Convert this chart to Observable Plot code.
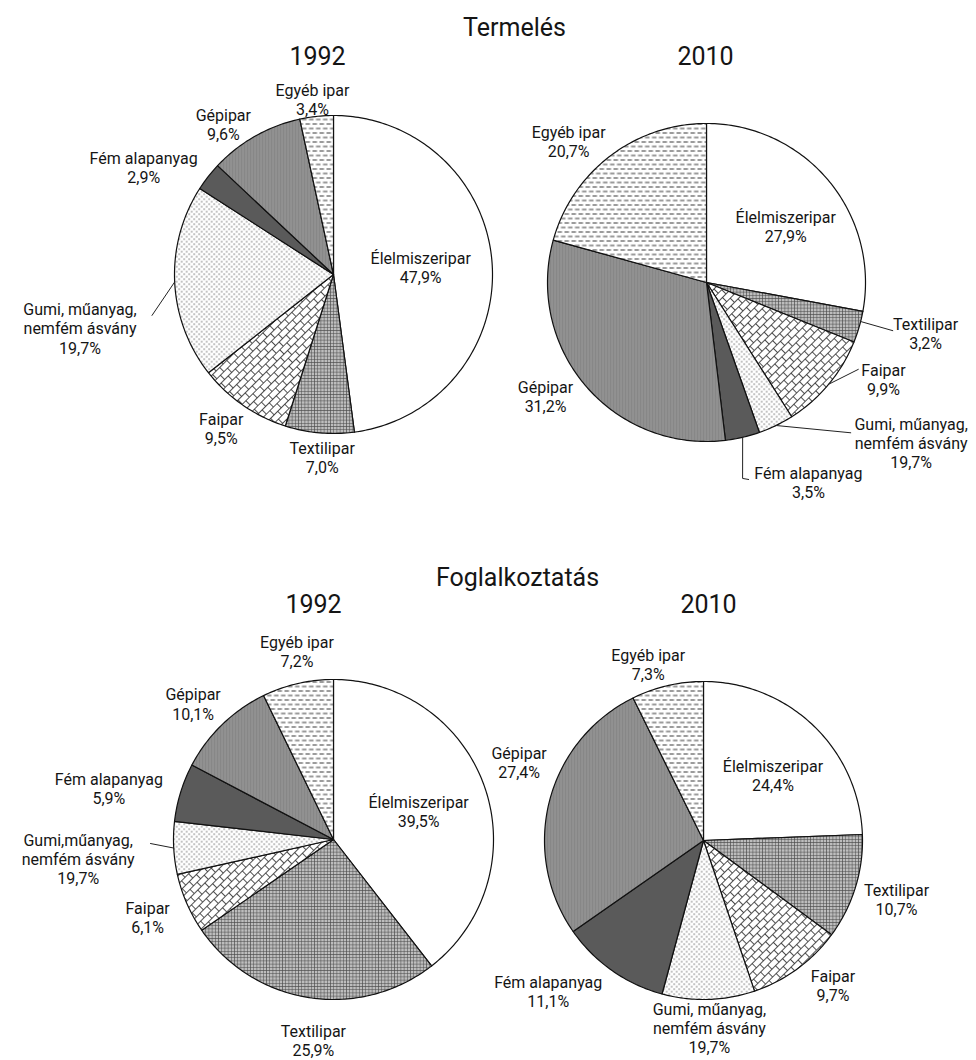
<!DOCTYPE html>
<html><head><meta charset="utf-8">
<script src="https://cdn.jsdelivr.net/npm/d3@7"></script>
<script src="https://cdn.jsdelivr.net/npm/@observablehq/plot@0.6"></script>
<style>
body{margin:0;background:#fff}
#chart svg{display:block}
</style>
</head><body>
<svg width="0" height="0" style="position:absolute;left:0;top:0">
<defs>
  <pattern id="p-textil" width="3.2" height="3.2" patternUnits="userSpaceOnUse">
    <rect width="3.2" height="3.2" fill="#bdbdbd"/>
    <path d="M0 0.4H3.2M0.4 0V3.2" stroke="#4a4a4a" stroke-width="0.55"/>
  </pattern>
  <pattern id="p-fa" width="10" height="12" patternUnits="userSpaceOnUse" patternTransform="rotate(-45)">
    <rect width="10" height="12" fill="#fff"/>
    <path d="M0 0.5H10M0 6.5H10M0.5 0.5V6.5M5.5 6.5V12.5" stroke="#222" stroke-width="0.8"/>
  </pattern>
  <pattern id="p-gumi" width="5" height="5" patternUnits="userSpaceOnUse">
    <rect width="5" height="5" fill="#fff"/>
    <circle cx="1.2" cy="1.2" r="0.65" fill="#444"/>
    <circle cx="3.7" cy="3.7" r="0.65" fill="#444"/>
  </pattern>
  <pattern id="p-gep" width="3" height="10" patternUnits="userSpaceOnUse">
    <rect width="3" height="10" fill="#9a9a9a"/>
    <path d="M1 0V10" stroke="#737373" stroke-width="1"/>
  </pattern>
  <pattern id="p-egyeb" width="7" height="9" patternUnits="userSpaceOnUse">
    <rect width="7" height="9" fill="#fff"/>
    <path d="M0.5 2H5M4 6.5H8.5M-3 6.5H1.5" stroke="#222" stroke-width="0.9"/>
  </pattern>
</defs>
</svg>
<div id="chart"></div>
<script>
// ---- data ----
const sectors = ["Élelmiszeripar", "Textilipar", "Faipar", "Gumi, műanyag,\nnemfém ásvány", "Fém alapanyag", "Gépipar", "Egyéb ipar"];
const sectorsAlt = ["Élelmiszeripar", "Textilipar", "Faipar", "Gumi,műanyag,\nnemfém ásvány", "Fém alapanyag", "Gépipar", "Egyéb ipar"];
const sectionTitles = ["Termelés", "Foglalkoztatás"];
const years = ["1992", "2010"];

// printed percentages (as labelled)
const termeles1992 = [47.9, 7.0, 9.5, 19.7, 2.9, 9.6, 3.4];
const termeles2010 = [27.9, 3.2, 9.9, 19.7, 3.5, 31.2, 20.7];
const foglalk1992  = [39.5, 25.9, 6.1, 19.7, 5.9, 10.1, 7.2];
const foglalk2010  = [24.4, 10.7, 9.7, 19.7, 11.1, 27.4, 7.3];
// slice sizes as drawn in the picture (the "Gumi" slices are drawn smaller than labelled)
const termeles1992Slice = [47.9, 7.0, 9.5, 19.7, 2.9, 9.6, 3.4];
const termeles2010Slice = [27.9, 3.2, 9.9, 3.6, 3.5, 31.2, 20.7];
const foglalk1992Slice  = [39.5, 25.9, 6.1, 5.3, 5.9, 10.1, 7.2];
const foglalk2010Slice  = [24.4, 10.7, 9.7, 9.4, 11.1, 27.4, 7.3];

// ---- styles / layout ----
const sectorFill = ["#ffffff", "url(#p-textil)", "url(#p-fa)", "url(#p-gumi)", "#5a5a5a", "url(#p-gep)", "url(#p-egyeb)"];

const pies = [
  {names: sectors, printed: termeles1992, slice: termeles1992Slice, cx: 333, cy: 274, r: 159,
   label: [[0.55,-0.8],[1.15,-1.5],[1.2,1.3],[1.63,-9.3],[1.37,-8.6],[1.17,-6.8],[1.11,-0.7]],
   leaders: [{i: 3, pts: [[1,0],[1.17,-10]]}]},
  {names: sectors, printed: termeles2010, slice: termeles2010Slice, cx: 706, cy: 282, r: 159,
   label: [[0.61,4.5],[1.415,-3.1],[1.27,-11],[1.635,-26],[1.41,-13.9],[1.24,5.4],[1.24,-7.1]],
   leaders: [{i: 1, pts: [[1,-2],[1.21,-1.7]]}, {i: 2, pts: [[1,0],[1.1,-10]]},
             {i: 3, pts: [[1,0],[1.31,-17.9]]}, {i: 4, pts: [[1,0],[1.253,2.7],[1.267,1.06]]}]},
  {names: sectorsAlt, printed: foglalk1992, slice: foglalk1992Slice, cx: 333, cy: 839, r: 160,
   label: [[0.56,0.7],[1.26,-3.1],[1.26,0.8],[1.6,-1.2],[1.44,-4.3],[1.22,-1.9],[1.2,2]],
   leaders: [{i: 3, pts: [[1,0],[1.144,1.8]]}]},
  {names: sectors, printed: foglalk2010, slice: foglalk2010Slice, cx: 703, cy: 840, r: 159,
   label: [[0.6,2.8],[1.27,0],[1.22,-5.7],[1.18,0],[1.36,10.8],[1.26,8.6],[1.16,-4.3]],
   leaders: []}
];
const sectionPos = [[514, 27], [517, 577]];
const yearPos = [[317, 56], [705, 56], [313, 604], [708, 604]];

const fmt = v => d3.format(".1f")(v).replace(".", ",") + "%";
const rad = Math.PI / 180;

const polyRows = [], leaderRows = [], labelRows = [];
pies.forEach((p, pi) => {
  const arcs = d3.pie().sort(null).value(d => d)(p.slice);
  const polar = (k, a) => ({x: p.cx + p.r * k * Math.sin(a), y: p.cy - p.r * k * Math.cos(a)});
  arcs.forEach((a, i) => {
    const id = `s${pi}-${i}`;
    const n = Math.max(2, Math.ceil((a.endAngle - a.startAngle) / rad));
    polyRows.push({id, fill: sectorFill[i], x: p.cx, y: p.cy});
    for (let j = 0; j <= n; j++) {
      const ang = a.startAngle + (a.endAngle - a.startAngle) * j / n;
      polyRows.push({id, fill: sectorFill[i], ...polar(1, ang)});
    }
    polyRows.push({id, fill: sectorFill[i], x: p.cx, y: p.cy});
    const mid = (a.startAngle + a.endAngle) / 2;
    const [k, off] = p.label[i];
    labelRows.push({text: `${p.names[i]}\n${fmt(p.printed[i])}`, ...polar(k, mid + off * rad)});
  });
  p.leaders.forEach(l => {
    const a = arcs[l.i];
    const mid = (a.startAngle + a.endAngle) / 2;
    l.pts.forEach(([k, off]) => leaderRows.push({id: `l${pi}-${l.i}`, ...polar(k, mid + off * rad)}));
  });
});

const titleRows = [
  ...sectionTitles.map((t, i) => ({text: t, x: sectionPos[i][0], y: sectionPos[i][1]})),
  ...yearPos.map((pos, i) => ({text: years[i % 2], x: pos[0], y: pos[1]}))
];

const chart = Plot.plot({
  width: 976, height: 1060, margin: 0,
  x: {domain: [0, 976], axis: null},
  y: {domain: [0, 1060], reverse: true, axis: null},
  color: {type: "identity"},
  style: {fontFamily: "Roboto, sans-serif", background: "#fff", color: "#111"},
  marks: [
    Plot.line(polyRows, {x: "x", y: "y", z: "id", fill: "fill", stroke: "#111", strokeWidth: 1.2, strokeLinejoin: "round", curve: "linear"}),
    Plot.line(leaderRows, {x: "x", y: "y", z: "id", stroke: "#222", strokeWidth: 1}),
    Plot.text(labelRows, {x: "x", y: "y", text: "text", fontSize: 16, lineHeight: 1.19, fill: "#151515"}),
    Plot.text(titleRows, {x: "x", y: "y", text: "text", fontSize: 25, fill: "#151515"})
  ]
});
document.getElementById("chart").append(chart);
</script>
</body></html>
